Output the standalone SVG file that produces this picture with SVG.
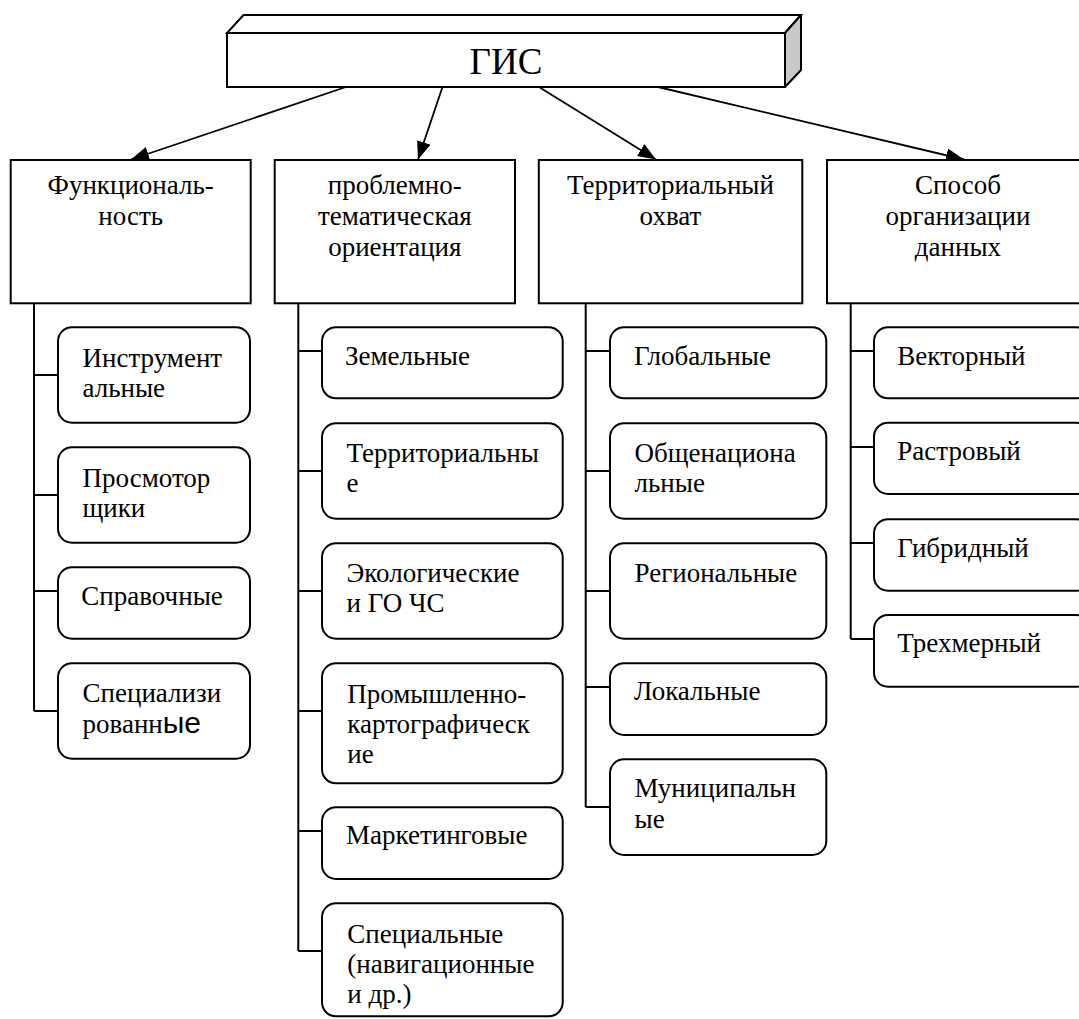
<svg xmlns="http://www.w3.org/2000/svg" width="1079" height="1019" viewBox="0 0 1079 1019">
<style>
.box{fill:#fff;stroke:#000;stroke-width:2}
.rbox{fill:#fff;stroke:#000;stroke-width:2}
.side{fill:#c8c8c8;stroke:#000;stroke-width:2;stroke-linejoin:round}
.ln{fill:none;stroke:#000;stroke-width:2}
.arr{fill:none;stroke:#000;stroke-width:1.8}
text{font-family:"Liberation Serif","Times New Roman",serif;font-size:27px;fill:#000}
.c{text-anchor:middle}
.big{font-size:37px}
.ar{font-family:"Liberation Sans",Arial,sans-serif;font-size:30px}
</style>
<defs>
<marker id="ah" markerUnits="userSpaceOnUse" markerWidth="20" markerHeight="14" refX="18" refY="7" orient="auto">
<path d="M0,0 L18,7 L0,14 z" fill="#000"/>
</marker>
</defs>

<g id="root">
<polygon class="box" points="227,33 243.5,15 801,15 785,33"/>
<polygon class="side" points="785,33 801,15 801,70 785,87"/>
<rect class="box" x="227" y="33" width="558" height="54"/>
<text class="c big" x="506" y="74">ГИС</text>
</g>

<g id="connectors">
<line class="arr" x1="346" y1="87" x2="131" y2="159.5" marker-end="url(#ah)"/>
<line class="arr" x1="442.5" y1="87" x2="418" y2="159.5" marker-end="url(#ah)"/>
<line class="arr" x1="539" y1="87" x2="656" y2="159.5" marker-end="url(#ah)"/>
<line class="arr" x1="658" y1="87" x2="964" y2="159.5" marker-end="url(#ah)"/>
<path class="ln" d="M34,303 V711 M34,375 H58 M34,495 H58 M34,591 H58 M34,711 H58"/>
<path class="ln" d="M298.3,303 V951 M298.3,351 H322 M298.3,471 H322 M298.3,591 H322 M298.3,711 H322 M298.3,831 H322 M298.3,951 H322"/>
<path class="ln" d="M585.7,303 V807 M585.7,351 H610 M585.7,471 H610 M585.7,591 H610 M585.7,687 H610 M585.7,807 H610"/>
<path class="ln" d="M850.7,303 V639 M850.7,351 H874 M850.7,447 H874 M850.7,543 H874 M850.7,639 H874"/>
</g>

<g id="h1">
<rect class="box" x="10.7" y="160" width="240" height="143.3"/>
<text class="c" x="130.7" y="194">Функциональ-</text>
<text class="c" x="130.7" y="225">ность</text>
</g>
<g id="h2">
<rect class="box" x="274.7" y="160" width="240.3" height="143.3"/>
<text class="c" x="394.8" y="194">проблемно-</text>
<text class="c" x="394.8" y="225">тематическая</text>
<text class="c" x="394.8" y="256">ориентация</text>
</g>
<g id="h3">
<rect class="box" x="538.8" y="160" width="263.5" height="143.3"/>
<text class="c" x="670.5" y="194">Территориальный</text>
<text class="c" x="670.5" y="225">охват</text>
</g>
<g id="h4">
<rect class="box" x="827" y="160" width="263" height="143.3"/>
<text class="c" x="958" y="194">Способ</text>
<text class="c" x="958" y="225">организации</text>
<text class="c" x="958" y="256">данных</text>
</g>

<g id="c1a">
<rect class="rbox" x="58" y="327.3" width="192" height="95.4" rx="14"/>
<text x="82.5" y="366.7">Инструмент</text>
<text x="82.5" y="396.7">альные</text>
</g>
<g id="c1b">
<rect class="rbox" x="58" y="447.3" width="192" height="95.4" rx="14"/>
<text x="82.5" y="486.7">Просмотор</text>
<text x="82.5" y="516.7">щики</text>
</g>
<g id="c1c">
<rect class="rbox" x="58" y="567.3" width="192" height="71.4" rx="14"/>
<text x="81.3" y="605">Справочные</text>
</g>
<g id="c1d">
<rect class="rbox" x="58" y="663.3" width="192" height="95.4" rx="14"/>
<text x="82.5" y="701.7">Специализи</text>
<text x="82.5" y="733.2">рованн<tspan class="ar">ые</tspan></text>
</g>

<g id="c2a">
<rect class="rbox" x="322" y="327.3" width="240.7" height="71" rx="14"/>
<text x="345" y="365">Земельные</text>
</g>
<g id="c2b">
<rect class="rbox" x="322" y="423.3" width="240.7" height="95.4" rx="14"/>
<text x="346.5" y="461.7">Территориальны</text>
<text x="346.5" y="491.7">е</text>
</g>
<g id="c2c">
<rect class="rbox" x="322" y="543.3" width="240.7" height="95.4" rx="14"/>
<text x="346.5" y="581.7">Экологические</text>
<text x="346.5" y="611.7">и ГО ЧС</text>
</g>
<g id="c2d">
<rect class="rbox" x="322" y="663.3" width="240.7" height="120" rx="14"/>
<text x="347.3" y="703.3">Промышленно-</text>
<text x="347.3" y="733.3">картографическ</text>
<text x="347.3" y="763.3">ие</text>
</g>
<g id="c2e">
<rect class="rbox" x="322" y="807.3" width="240.7" height="71.7" rx="14"/>
<text x="346" y="844">Маркетинговые</text>
</g>
<g id="c2f">
<rect class="rbox" x="322" y="903.3" width="240.7" height="113" rx="14"/>
<text x="347.3" y="942.7">Специальные</text>
<text x="347.3" y="973.3">(навигационные</text>
<text x="347.3" y="1003.3">и др.)</text>
</g>

<g id="c3a">
<rect class="rbox" x="610" y="327.3" width="216.3" height="71" rx="14"/>
<text x="634" y="365">Глобальные</text>
</g>
<g id="c3b">
<rect class="rbox" x="610" y="423.3" width="216.3" height="95.4" rx="14"/>
<text x="634.5" y="461.7">Общенациона</text>
<text x="634.5" y="491.7">льные</text>
</g>
<g id="c3c">
<rect class="rbox" x="610" y="543.3" width="216.3" height="95.4" rx="14"/>
<text x="634.5" y="581.7">Региональные</text>
</g>
<g id="c3d">
<rect class="rbox" x="610" y="663.3" width="216.3" height="71.7" rx="14"/>
<text x="634" y="700">Локальные</text>
</g>
<g id="c3e">
<rect class="rbox" x="610" y="759.3" width="216.3" height="95.7" rx="14"/>
<text x="634.5" y="796.7">Муниципальн</text>
<text x="634.5" y="828.3">ые</text>
</g>

<g id="c4a">
<rect class="rbox" x="874" y="327.3" width="216" height="71" rx="14"/>
<text x="897.3" y="365">Векторный</text>
</g>
<g id="c4b">
<rect class="rbox" x="874" y="422.7" width="216" height="71.3" rx="14"/>
<text x="897.3" y="460">Растровый</text>
</g>
<g id="c4c">
<rect class="rbox" x="874" y="519.3" width="216" height="71.4" rx="14"/>
<text x="897.3" y="556.7">Гибридный</text>
</g>
<g id="c4d">
<rect class="rbox" x="874" y="615" width="216" height="71.7" rx="14"/>
<text x="897.3" y="651.7">Трехмерный</text>
</g>
</svg>
